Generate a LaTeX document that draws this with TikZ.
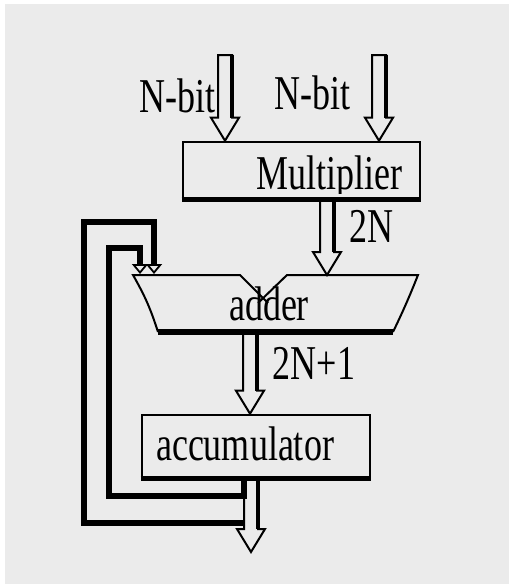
\documentclass[tikz,border=0pt]{standalone}
\usepackage{fontspec}
\setmainfont{Liberation Serif}
\usetikzlibrary{calc,arrows.meta}
\definecolor{bggray}{RGB}{235,235,235}
\tikzset{
  box/.style={draw, line width=1.3pt, inner sep=0pt},
  lbl/.style={anchor=base, inner sep=0pt, font=\fontsize{18}{18}\selectfont},
  busline/.style={line width=1pt, line join=miter},
  busshade/.style={line width=2.4pt},
  fb/.style={line width=2.6pt, -{Triangle[open,length=5pt,width=8pt,line width=0.9pt]}},
  addline/.style={line width=1pt}
}
\newcommand{\tall}[1]{\scalebox{1}[1.35]{#1}}
% szeroka strzalka magistrali: #1 poczatek, #2 grot
\newcommand{\busarrow}[2]{%
  \draw[busline] let \p1=#1, \p2=#2 in
    (\x1-3.5pt,\y1) -- (\x1-3.5pt,\y2+11.5pt) -- (\x1-7pt,\y2+11.5pt) -- (\x1,\y2)
    -- (\x1+7pt,\y2+11.5pt) -- (\x1+3.5pt,\y2+11.5pt) -- (\x1+3.5pt,\y1) -- cycle;
  \draw[busshade] let \p1=#1, \p2=#2 in (\x1+3.5pt,\y1) -- (\x1+3.5pt,\y2+11.5pt);
}
\begin{document}
\begin{tikzpicture}[x=0.5pt, y=-0.5pt]
  % tlo
  \useasboundingbox (0,0) rectangle (509,584);
  \fill[white] (0,0) rectangle (509,584);
  \fill[bggray] (5,4) rectangle (509,584);

  % mnozarka
  \node (mul) at (301.5,170) [box, minimum width=118.5pt, minimum height=28pt] {};
  \begin{scope}
    \clip (183,142) rectangle (420,193);
    \node (mullbl) at (329,189) [lbl] {\tall{Multiplier}};
  \end{scope}
  \draw[line width=2.8pt] (mul.south west) -- (mul.south east);

  % wejscia
  \coordinate (inL) at (225,55);
  \coordinate (inR) at (379,55);
  \busarrow{(inL)}{(mul.north -| inL)}
  \busarrow{(inR)}{(mul.north -| inR)}
  \node (bitL) at (177.5,112) [lbl] {\tall{N-bit}};
  \node (bitR) at (312.5,109) [lbl] {\tall{N-bit}};

  % sumator
  \coordinate (addL) at (140,274);
  \coordinate (addM) at (154,274);
  \coordinate (addR) at (327,275);
  \coordinate (addB) at (250,332);
  \draw[addline] (158,332) to[bend right=6] (133,275) -- (240,275) -- (268,303);
  \draw[addline] (258,303) -- (287,275) -- (418,275) to[bend left=2] (393,332);
  \draw[line width=2.6pt] (158,332) -- (393,332);
  \node (addlbl) at (269,320) [lbl] {\tall{adder}};
  \busarrow{(mul.south -| addR)}{(addR)}
  \node (lbl2n) at (371.5,242) [lbl] {\tall{2N}};

  % akumulator
  \node (acc) at (256,446) [box, minimum width=114pt, minimum height=31pt] {};
  \draw[line width=2.8pt] (acc.south west) -- (acc.south east);
  \node (acclbl) at (245,460) [lbl] {\tall{accumulator}};
  \busarrow{(addB)}{(acc.north -| addB)}
  \node (lbl2n1) at (314,379) [lbl] {\tall{2N+1}};

  % wyjscie i sprzezenie zwrotne
  \coordinate (out) at (251,552);
  \busarrow{(acc.south -| out)}{(out)}
  \coordinate (fbI) at (244,477);
  \coordinate (fbO) at (245,523);
  \draw[fb] (fbI) -- ++(0,19) -| (109,248) -| (addL);
  \draw[fb] (fbO) -| (84,222) -| (addM);
\end{tikzpicture}
\end{document}
